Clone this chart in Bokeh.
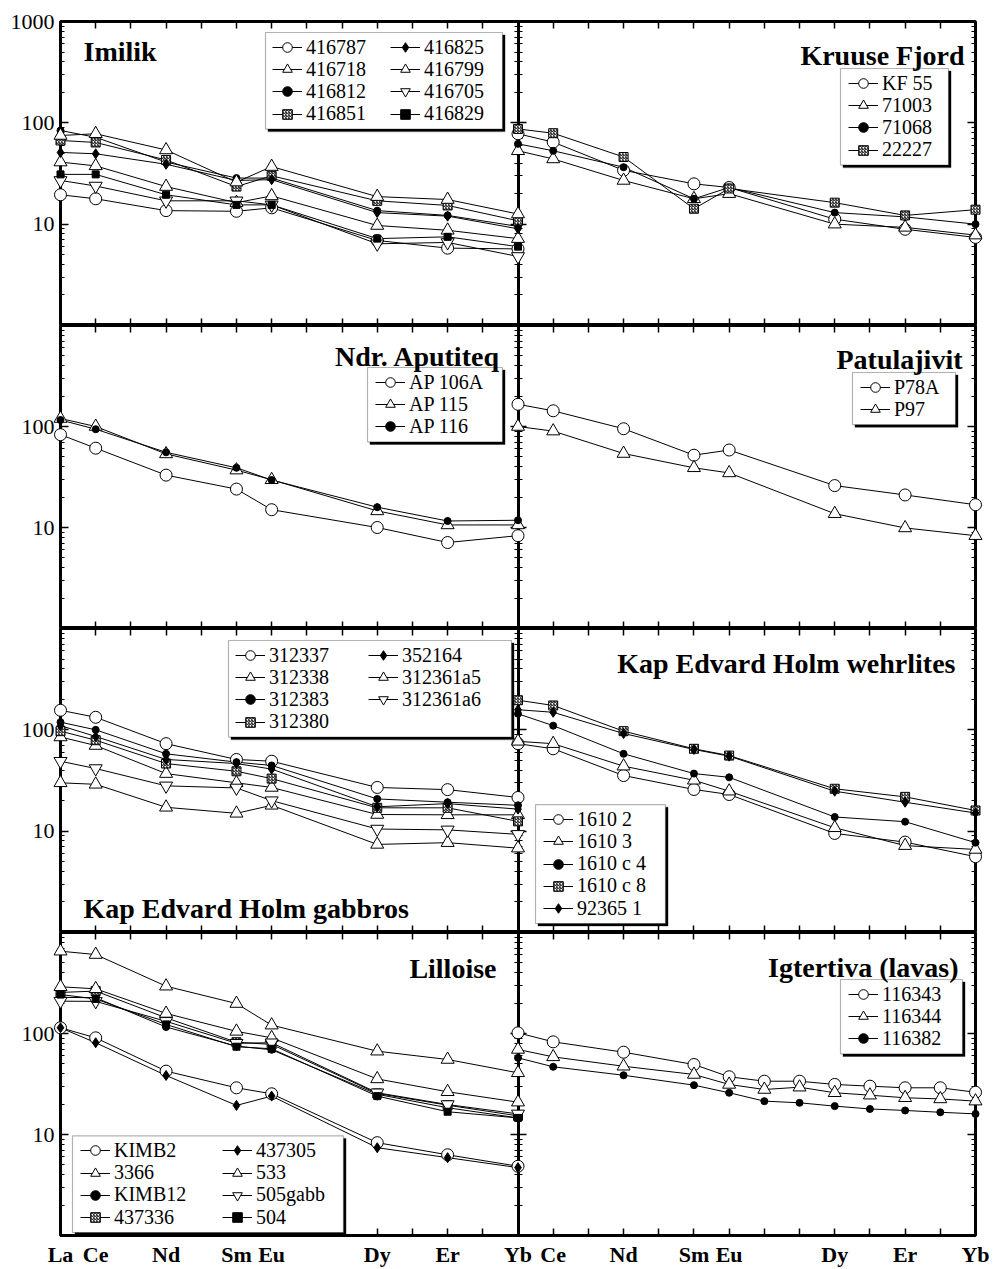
import math
from bokeh.plotting import figure
from bokeh.layouts import column
from bokeh.models import (Range1d, LinearAxis, LogAxis, FixedTicker, PrintfTickFormatter,
                          Legend, LegendItem, Label, ColumnDataSource, BoxAnnotation)
from bokeh.core.properties import value
from bokeh.embed import file_html
from bokeh.resources import INLINE

# ------------------------------------------------------------------ data
ELEMENTS = ["La", "Ce", "Pr", "Nd", "Pm", "Sm", "Eu", "Gd", "Tb", "Dy", "Ho", "Er", "Tm", "Yb"]
ATOMIC = {el: 57 + i for i, el in enumerate(ELEMENTS)}
REE8 = ["La", "Ce", "Nd", "Sm", "Eu", "Dy", "Er", "Yb"]
REE12 = ["La", "Ce", "Nd", "Sm", "Eu", "Gd", "Tb", "Dy", "Ho", "Er", "Tm", "Yb"]
LEFT_TICK_LABELS = ["La", "Ce", "Nd", "Sm", "Eu", "Dy", "Er", "Yb"]
RIGHT_TICK_LABELS = ["Ce", "Nd", "Sm", "Eu", "Dy", "Er", "Yb"]
Y_TICK_LABELS_TOP = [10, 100, 1000]
Y_TICK_LABELS = [10, 100]

imilik_samples = ["416787", "416718", "416812", "416851", "416825", "416799", "416705", "416829"]
imilik_markers = ["circle_open", "triangle_open", "circle_filled", "square_hatch",
                  "diamond_filled", "triangle_open", "inv_triangle_open", "square_filled"]
imilik_values = {
    "416787": [19.5, 17.8, 13.6, 13.4, 14.5, 6.9, 5.8, 5.7],
    "416718": [41, 37.6, 23.5, 16.3, 19, 9.7, 8.7, 7.2],
    "416812": [84, 72, 41, 28.5, 28.5, 13.6, 12.2, 9.5],
    "416851": [67, 64, 43, 23.5, 30, 17, 15.3, 10.8],
    "416825": [51, 49.5, 39, 27, 27.5, 13, 12, 9],
    "416799": [75, 78, 54, 26, 37, 18.7, 17.5, 12.6],
    "416705": [27, 23.8, 17, 17, 15.5, 6.4, 6.6, 4.8],
    "416829": [31, 31, 19.5, 15.5, 15.5, 7.2, 7.5, 6.0],
}

kruuse_samples = ["KF 55", "71003", "71068", "22227"]
kruuse_markers = ["circle_open", "triangle_open", "circle_filled", "square_hatch"]
kruuse_values = {
    "KF 55": [78, 64.5, 34, 25, 23, 11.2, 8.9, 7.4],
    "71003": [53, 44, 27, 17.8, 20, 10, 9.3, 7.8],
    "71068": [62, 53, 36.5, 17.8, 23, 13, 11.8, 10],
    "22227": [87, 79, 46, 14.2, 22.5, 16.3, 12.2, 13.9],
}

aputiteq_samples = ["AP 106A", "AP 115", "AP 116"]
aputiteq_markers = ["circle_open", "triangle_open", "circle_filled"]
aputiteq_values = {
    "AP 106A": [83, 61, 33, 24, 15, 10, 7.1, 8.3],
    "AP 115": [120, 100, 53.5, 37, 29.7, 14.6, 10.6, 10.6],
    "AP 116": [116, 94, 55.5, 39, 29.5, 15.9, 11.6, 11.8],
}

patul_samples = ["P78A", "P97"]
patul_markers = ["circle_open", "triangle_open"]
patul_values = {
    "P78A": [166, 143, 95, 52, 58.5, 26, 21, 16.8],
    "P97": [100, 90, 54, 39, 34.7, 13.7, 9.9, 8.3],
}

gabbro_samples = ["312337", "312338", "312383", "312380", "352164", "312361a5", "312361a6"]
gabbro_markers = ["circle_open", "triangle_open", "circle_filled", "square_hatch",
                  "diamond_filled", "triangle_open", "inv_triangle_open"]
gabbro_values = {
    "312337": [156, 133, 73, 51, 49, 27, 25.7, 21.5],
    "312338": [85, 70, 37, 30, 27, 14.6, 14.5, 14.5],
    "312383": [119, 100, 58, 48, 44.5, 20.8, 19.3, 18],
    "312380": [97, 79, 46.5, 39, 33, 17, 17, 12.5],
    "352164": [110, 86, 51, 46.5, 41, 17.4, 18.7, 16.5],
    "312361a5": [30, 29, 17.2, 15, 18, 7.4, 7.7, 6.8],
    "312361a6": [49, 41.5, 28, 26.7, 20, 10.5, 10.3, 9.3],
}

wehrlite_samples = ["1610 2", "1610 3", "1610 c 4", "1610 c 8", "92365 1"]
wehrlite_markers = ["circle_open", "triangle_open", "circle_filled", "square_hatch", "diamond_filled"]
wehrlite_values = {
    "1610 2": [73, 65, 35.4, 25.8, 23, 9.5, 7.8, 5.6],
    "1610 3": [77, 73, 43.8, 31.8, 24.8, 10.8, 7.2, 6.6],
    "1610 c 4": [144, 110, 58, 37, 34, 13.8, 12.4, 7.7],
    "1610 c 8": [196, 174, 97, 65, 55.7, 26.2, 21.8, 16],
    "92365 1": [158, 149, 92, 64, 55, 24.8, 19.3, 15.1],
}

lilloise_samples = ["KIMB2", "3366", "KIMB12", "437336", "437305", "533", "505gabb", "504"]
lilloise_markers = ["circle_open", "triangle_open", "circle_filled", "square_hatch",
                    "diamond_filled", "triangle_open", "inv_triangle_open", "square_filled"]
lilloise_values = {
    "KIMB2": [114, 90.6, 42.4, 29, 25.3, 8.3, 6.3, 4.85],
    "3366": [653, 605, 294, 198, 121, 66.8, 55.3, 40.8],
    "KIMB12": [228, 226, 116, 75, 69, 25, 18.4, 14.6],
    "437336": [255, 263, 143, 82, 78, 25.5, 19.5, 15.3],
    "437305": [114, 81, 38.4, 19.4, 24, 7.4, 5.9, 4.7],
    "533": [290, 277, 158, 105, 90.6, 35.5, 26.5, 20.9],
    "505gabb": [209, 208, 132, 80, 81, 25.9, 19.8, 16],
    "504": [243, 220, 123, 74, 70.6, 24, 16.8, 14.6],
}

igtertiva_samples = ["116343", "116344", "116382"]
igtertiva_markers = ["circle_open", "triangle_open", "circle_filled"]
igtertiva_values = {
    "116343": [101.6, 82.7, 65.3, 49.3, 37.3, 33.7, 33.7, 31.3, 30.1, 29, 29, 26.2],
    "116344": [69.5, 58.7, 47.4, 39.3, 31.3, 27.9, 29.4, 25.9, 24.5, 23.1, 22.5, 21.4],
    "116382": [57.4, 46.8, 38.6, 30.8, 25.9, 21.4, 20.6, 19.1, 17.9, 17.3, 16.6, 16.0],
}

# ------------------------------------------------------------------ styles / layout
SERIF = "Liberation Serif"
STYLES = {
    "circle_open": dict(marker="circle", size=12, fill_color="white"),
    "triangle_open": dict(marker="triangle", size=13, fill_color="white"),
    "circle_filled": dict(marker="circle", size=7, fill_color="black"),
    "square_hatch": dict(marker="square", size=9, fill_color="white", hatch_pattern="/",
                         hatch_scale=3, hatch_weight=1, hatch_color="black"),
    "diamond_filled": dict(marker="diamond", size=10, fill_color="black"),
    "inv_triangle_open": dict(marker="inverted_triangle", size=13, fill_color="white"),
    "square_filled": dict(marker="square", size=7, fill_color="black"),
}

# legend boxes in page pixels: left, right, anchored edge ("top"/"bottom", y), column x
PANELS = [
    dict(title="Imilik", row=0, side="left", elements=REE8, samples=imilik_samples,
         values=imilik_values, markers=imilik_markers,
         box_x=(265, 502), anchor=("top", 32), cols=[272, 390],
         title_xy=(83, 51), align="left"),
    dict(title="Kruuse Fjord", row=0, side="right", elements=REE8, samples=kruuse_samples,
         values=kruuse_values, markers=kruuse_markers,
         box_x=(840, 948), anchor=("top", 68), cols=[848],
         title_xy=(964, 55), align="right"),
    dict(title="Ndr. Aputiteq", row=1, side="left", elements=REE8, samples=aputiteq_samples,
         values=aputiteq_values, markers=aputiteq_markers,
         box_x=(367, 502), anchor=("top", 367), cols=[375],
         title_xy=(500, 356), align="right"),
    dict(title="Patulajivit", row=1, side="right", elements=REE8, samples=patul_samples,
         values=patul_values, markers=patul_markers,
         box_x=(852, 955), anchor=("top", 372), cols=[860],
         title_xy=(962, 359), align="right"),
    dict(title="Kap Edvard Holm gabbros", row=2, side="left", elements=REE8, samples=gabbro_samples,
         values=gabbro_values, markers=gabbro_markers,
         box_x=(228, 511), anchor=("top", 640), cols=[235, 368],
         title_xy=(83, 908), align="left"),
    dict(title="Kap Edvard Holm wehrlites", row=2, side="right", elements=REE8,
         samples=wehrlite_samples, values=wehrlite_values, markers=wehrlite_markers,
         box_x=(535, 665), anchor=("bottom", 923), cols=[543],
         title_xy=(955, 663), align="right"),
    dict(title="Lilloise", row=3, side="left", elements=REE8, samples=lilloise_samples,
         values=lilloise_values, markers=lilloise_markers,
         box_x=(72, 343), anchor=("bottom", 1232), cols=[80, 222],
         title_xy=(496, 968), align="right"),
    dict(title="Igtertiva (lavas)", row=3, side="right", elements=REE12, samples=igtertiva_samples,
         values=igtertiva_values, markers=igtertiva_markers,
         box_x=(840, 962), anchor=("top", 979), cols=[848],
         title_xy=(958, 967), align="right"),
]

FRAME_H = [304, 303, 304, 303]
BORDER_TOP = [21, 0, 0, 0]
BORDER_BOTTOM = [0, 0, 0, 34]
BL, FW, BR = 60, 915, 15
ROW_BOTTOM = [BORDER_TOP[0] + sum(FRAME_H[:i + 1]) for i in range(4)]
LEFT_RANGE = (57, 83)     # left panel La..Yb occupies the left half of each row
RIGHT_RANGE = (44, 70)    # right panel La..Yb occupies the right half
SHIFT = LEFT_RANGE[1] - RIGHT_RANGE[1]
X_TICKS = list(range(LEFT_RANGE[0], LEFT_RANGE[1] + 1))
MINOR_Y = [m * 10 ** k for k in range(3) for m in range(2, 10)]
LEG_FONT = "20px"
PITCH = 22.2
EDGE = 15
ITEM_H = 24


def x_axis(p, place, fixed, labelled):
    overrides = {t: "" for t in X_TICKS}
    if labelled:
        for lab in LEFT_TICK_LABELS:
            overrides[ATOMIC[lab]] = lab
        for lab in RIGHT_TICK_LABELS:
            overrides[ATOMIC[lab] + SHIFT] = lab
    ax = LinearAxis(fixed_location=fixed,
                    ticker=FixedTicker(ticks=X_TICKS),
                    major_label_overrides=overrides,
                    major_tick_in=7, major_tick_out=0, major_tick_line_width=1.5,
                    minor_tick_line_color=None, axis_line_color=None,
                    major_label_text_font=SERIF, major_label_text_font_style="bold",
                    major_label_text_font_size="22px", major_label_standoff=6,
                    major_label_text_color="black" if labelled else None)
    p.add_layout(ax, place)


def y_axis(p, place, fixed, ticks, labelled, tick_out=0, line_width=0):
    ax = LogAxis(fixed_location=fixed,
                 ticker=FixedTicker(ticks=ticks, minor_ticks=MINOR_Y),
                 formatter=PrintfTickFormatter(format="%d"),
                 major_tick_in=8, major_tick_out=tick_out, major_tick_line_width=1.5,
                 minor_tick_in=4, minor_tick_out=4 if tick_out else 0, minor_tick_line_width=1,
                 axis_line_color="black" if line_width else None, axis_line_width=line_width,
                 major_label_text_font=SERIF, major_label_text_font_size="22px",
                 major_label_standoff=6,
                 major_label_text_color="black" if labelled else None)
    p.add_layout(ax, place)


rows = []
for r in range(4):
    p = figure(width=BL + FW + BR, height=BORDER_TOP[r] + FRAME_H[r] + BORDER_BOTTOM[r],
               x_range=Range1d(*LEFT_RANGE), y_range=Range1d(1, 1000), y_axis_type="log",
               extra_x_ranges={"r": Range1d(*RIGHT_RANGE)},
               x_axis_location=None, y_axis_location=None,
               output_backend="svg", toolbar_location=None,
               min_border_left=BL, min_border_right=BR,
               min_border_top=BORDER_TOP[r], min_border_bottom=BORDER_BOTTOM[r],
               outline_line_color="black", outline_line_width=3,
               background_fill_color="white", border_fill_color="white")
    p.grid.visible = False

    x_axis(p, "below", None if r == 3 else 1, r == 3)
    x_axis(p, "above", 1000, False)
    y_axis(p, "left", None, Y_TICK_LABELS_TOP if r == 0 else Y_TICK_LABELS, True)
    y_axis(p, "left", 70, Y_TICK_LABELS, False, tick_out=8, line_width=3)
    y_axis(p, "right", 83, Y_TICK_LABELS, False)

    fb = ROW_BOTTOM[r]
    for pan in [q for q in PANELS if q["row"] == r]:
        rng = "default" if pan["side"] == "left" else "r"
        xs = [ATOMIC[e] for e in pan["elements"]]

        n = len(pan["samples"])
        nrows = math.ceil(n / len(pan["cols"]))
        height = 2 * EDGE + (nrows - 1) * PITCH
        side, edge_y = pan["anchor"]
        T = edge_y if side == "top" else edge_y - height
        B = T + height
        L, R = pan["box_x"]
        # legend frame with drop shadow
        for dx, col in ((2.5, "black"), (0, "white")):
            p.add_layout(BoxAnnotation(left=L - BL + dx, right=R - BL + dx,
                                       top=fb - T - dx, bottom=fb - B - dx,
                                       left_units="screen", right_units="screen",
                                       top_units="screen", bottom_units="screen",
                                       fill_color=col, fill_alpha=1.0,
                                       line_color="black", line_width=1.2))

        for i, (name, mk) in enumerate(zip(pan["samples"], pan["markers"])):
            src = ColumnDataSource(dict(x=xs, y=pan["values"][name]))
            lr = p.line("x", "y", source=src, line_color="black", line_width=1, x_range_name=rng)
            sr = p.scatter("x", "y", source=src, line_color="black", line_width=1,
                           x_range_name=rng, level="overlay", **STYLES[mk])
            c, k = divmod(i, nrows)
            centre = T + EDGE + k * PITCH
            leg = Legend(items=[LegendItem(label=value(name), renderers=[lr, sr])],
                         location=(pan["cols"][c] - BL, fb - centre - ITEM_H / 2),
                         orientation="vertical",
                         label_text_font=SERIF, label_text_font_size=LEG_FONT,
                         label_text_color="black",
                         glyph_width=30, glyph_height=ITEM_H, label_height=ITEM_H,
                         label_standoff=4, spacing=0, padding=0, margin=0,
                         border_line_color=None, background_fill_alpha=0.0)
            p.add_layout(leg, "center")

        tx, ty = pan["title_xy"]
        p.add_layout(Label(x=tx - BL, y=fb - ty, x_units="screen", y_units="screen",
                           text=pan["title"], text_font=SERIF, text_font_style="bold",
                           text_font_size="28px", text_align=pan["align"],
                           text_baseline="alphabetic", text_color="black"))
    rows.append(p)

layout = column(*rows, spacing=0)
open("out.html", "w").write(file_html(layout, INLINE))
